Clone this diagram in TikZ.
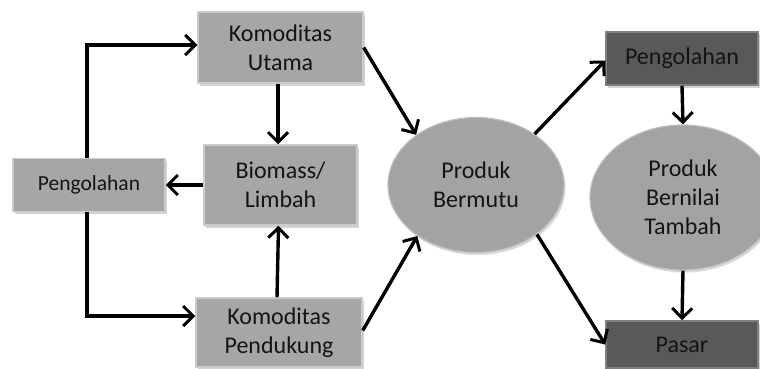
\documentclass[tikz,border=0pt]{standalone}
\usepackage{fontspec}
\setmainfont{Carlito}
\usetikzlibrary{arrows.meta,shadows,calc,shapes.geometric}
\definecolor{lightbox}{HTML}{A6A6A6}
\definecolor{lightedge}{HTML}{CBCBCB}
\definecolor{darkbox}{HTML}{595959}
\definecolor{darkedge}{HTML}{808080}
\definecolor{ellfill}{HTML}{A3A3A3}
\definecolor{txt}{HTML}{141414}
\tikzset{
  lbox/.style={rectangle, draw=lightedge, line width=1.5pt, fill=lightbox,
    drop shadow={shadow xshift=1.5pt, shadow yshift=-2.5pt, opacity=0.35},
    text=txt, align=center, inner sep=0pt, font=\fontsize{24}{29}\selectfont},
  dbox/.style={rectangle, draw=darkedge, line width=1.5pt, fill=darkbox,
    drop shadow={shadow xshift=1.5pt, shadow yshift=-2.5pt, opacity=0.35},
    text=txt, align=center, inner sep=0pt, font=\fontsize{24}{29}\selectfont},
  ell/.style={ellipse, draw=lightedge!70!ellfill, line width=1.2pt, fill=ellfill,
    drop shadow={shadow xshift=1.5pt, shadow yshift=-2.5pt, opacity=0.3},
    text=txt, align=center, inner sep=0pt, font=\fontsize{24}{29}\selectfont},
  arr/.style={line width=3.4pt, -{Straight Barb[length=10pt,width=20pt,line width=3pt]}}
}
\begin{document}
\begin{tikzpicture}[x=1pt,y=-1pt]
\useasboundingbox (0,0) rectangle (760,369);
\node[lbox, minimum width=165pt, minimum height=71pt] (KU) at (280.5,47.5) {Komoditas\\Utama};
\node[lbox, minimum width=153pt, minimum height=80pt] (BL) at (280.5,185) {Biomass/\\Limbah};
\node[lbox, minimum width=152pt, minimum height=53pt, font=\fontsize{21.5}{26}\selectfont] (PL) at (89,185) {Pengolahan};
\node[lbox, minimum width=166pt, minimum height=69pt] (KP) at (279,332.5) {Komoditas\\Pendukung};
\node[ell, minimum width=176pt, minimum height=135pt] (PB) at (476,185) {Produk\\Bermutu};
\node[dbox, minimum width=152pt, minimum height=53pt] (PR) at (682,58.5) {Pengolahan};
\node[ell, minimum width=186pt, minimum height=145pt] (PNT) at (683,197.5) {Produk\\Bernilai\\Tambah};
\node[dbox, minimum width=152pt, minimum height=47pt] (PS) at (682,344.5) {Pasar};
\draw[arr] ([xshift=-2pt]PL.north) |- ([yshift=2.5pt]KU.west);
\draw[arr] ([xshift=-2pt]PL.south) |- ([yshift=16.5pt]KP.west);
\draw[arr] ([xshift=-2.5pt]KU.south) -- ([xshift=-2.5pt]BL.north);
\draw[arr] ([xshift=-2pt]KP.north) -- ([xshift=-2pt]BL.south);
\draw[arr] (BL.west) -- (PL.east);
\draw[arr] (KU.east) -- (PB.140);
\draw[arr] ([yshift=2pt]KP.east) -- (PB.221);
\draw[arr] (PB.41) -- ([yshift=-2pt]PR.west);
\draw[arr] (PB.321) -- (PS.west);
\draw[arr] (PR.south) -- (PNT.north);
\draw[arr] (PNT.south) -- (PS.north);
\end{tikzpicture}
\end{document}
